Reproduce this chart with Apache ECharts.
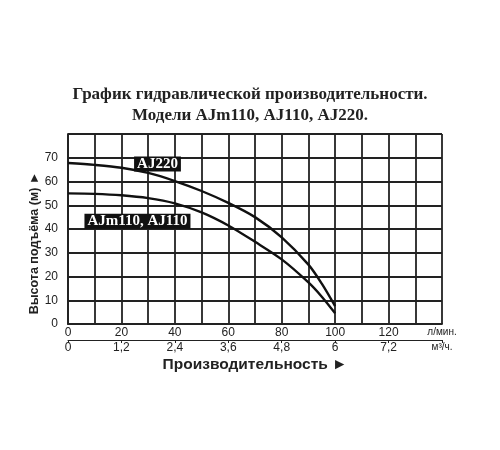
<!DOCTYPE html>
<html>
<head>
<meta charset="utf-8">
<script src="https://cdn.jsdelivr.net/npm/echarts@6/dist/echarts.min.js"></script>
<style>
  html, body { margin: 0; padding: 0; background: #fff; }
  #chart { width: 500px; height: 450px; }
</style>
</head>
<body>
<div id="chart"></div>
<script>
// flow, l/min
const flowLpm = [0, 10, 20, 30, 40, 50, 60, 70, 80, 90, 95, 100];
// head, m
const headAJ220 = [67.8, 67, 65.8, 63.6, 60.2, 56, 51, 45, 36.5, 25, 17, 7.5];
const headAJm110 = [55, 54.8, 54.2, 53, 50.8, 47, 41.5, 34.6, 27.2, 17.5, 11.5, 4.5];

const seriesNames = ['AJ220', 'AJm110, AJ110'];
const labelAt = [[33.5, 67.4], [26, 43.3]];

function pairs(xs, ys) {
  return xs.map(function (x, i) { return [x, ys[i]]; });
}

const chartDom = document.getElementById('chart');
const myChart = echarts.init(chartDom);

const gridLine = { color: '#222', width: 1.8 };
const serif = '"Liberation Serif", "DejaVu Serif", serif';
const sans = '"Liberation Sans", Arial, sans-serif';

function curve(name, data, at) {
  return {
    type: 'line',
    name: name,
    data: data,
    smooth: 0.3,
    showSymbol: false,
    lineStyle: { color: '#111', width: 2.4 },
    markPoint: {
      symbol: 'rect',
      symbolSize: 0,
      data: [{ coord: at, value: name }],
      label: {
        show: true,
        position: 'inside',
        formatter: name,
        backgroundColor: '#111',
        color: '#fff',
        fontFamily: serif,
        fontWeight: 'bold',
        fontSize: 15,
        padding: [0, 3, 0, 3],
        lineHeight: 15
      }
    }
  };
}

let option = {
  animation: false,
  title: {
    text: 'График гидравлической производительности.\nМодели AJm110, AJ110, AJ220.',
    left: 'center',
    top: 79,
    textStyle: {
      fontFamily: serif,
      fontWeight: 'bold',
      fontSize: 17,
      lineHeight: 21,
      color: '#222',
      align: 'center'
    }
  },
  grid: { left: 68, right: 58, top: 134, bottom: 126 },
  xAxis: [
    {
      type: 'value',
      min: 0,
      max: 140,
      interval: 10,
      axisLine: { show: true, lineStyle: { color: '#222', width: 1.8 } },
      axisTick: { show: false },
      splitLine: { show: true, lineStyle: gridLine },
      axisLabel: {
        margin: 3,
        color: '#222',
        fontFamily: sans,
        fontSize: 12,
        formatter: function (v) {
          if (v === 140) return '{u|л/мин.}';
          return v % 20 === 0 ? String(v) : '';
        },
        rich: { u: { fontSize: 10, fontFamily: sans, color: '#222' } }
      }
    },
    {
      type: 'value',
      position: 'bottom',
      offset: 16,
      min: 0,
      max: 8.4,
      interval: 1.2,
      name: 'Производительность ►',
      nameLocation: 'middle',
      nameGap: 17,
      nameMoveOverlap: false,
      nameTextStyle: {
        fontFamily: sans,
        fontWeight: 'bold',
        fontSize: 15.5,
        color: '#222'
      },
      axisLine: { show: true, onZero: false, lineStyle: { color: '#222', width: 1 } },
      axisTick: { show: true, inside: false, length: 3, lineStyle: { color: '#222' } },
      splitLine: { show: false },
      axisLabel: {
        margin: 2,
        color: '#222',
        fontFamily: sans,
        fontSize: 12,
        formatter: function (v) {
          if (Math.abs(v - 8.4) < 1e-6) return '{u|м³/ч.}';
          return (Math.round(v * 10) / 10).toString().replace('.', ',');
        },
        rich: { u: { fontSize: 10, fontFamily: sans, color: '#222' } }
      }
    }
  ],
  yAxis: {
    type: 'value',
    min: 0,
    max: 80,
    interval: 10,
    name: 'Высота подъёма (м) ►',
    nameLocation: 'middle',
    nameGap: 27,
    nameMoveOverlap: false,
    nameTextStyle: {
      fontFamily: sans,
      fontWeight: 'bold',
      fontSize: 12.5,
      color: '#222',
      padding: [0, 28, 0, 0]
    },
    axisLine: { show: true, lineStyle: { color: '#222', width: 1.8 } },
    axisTick: { show: false },
    splitLine: { show: true, lineStyle: gridLine },
    axisLabel: {
      margin: 10,
      color: '#222',
      fontFamily: sans,
      fontSize: 12,
      formatter: function (v) { return v === 80 ? '' : String(v); }
    }
  },
  series: [
    curve(seriesNames[0], pairs(flowLpm, headAJ220), labelAt[0]),
    curve(seriesNames[1], pairs(flowLpm, headAJm110), labelAt[1])
  ]
};
myChart.setOption(option);
</script>
</body>
</html>
